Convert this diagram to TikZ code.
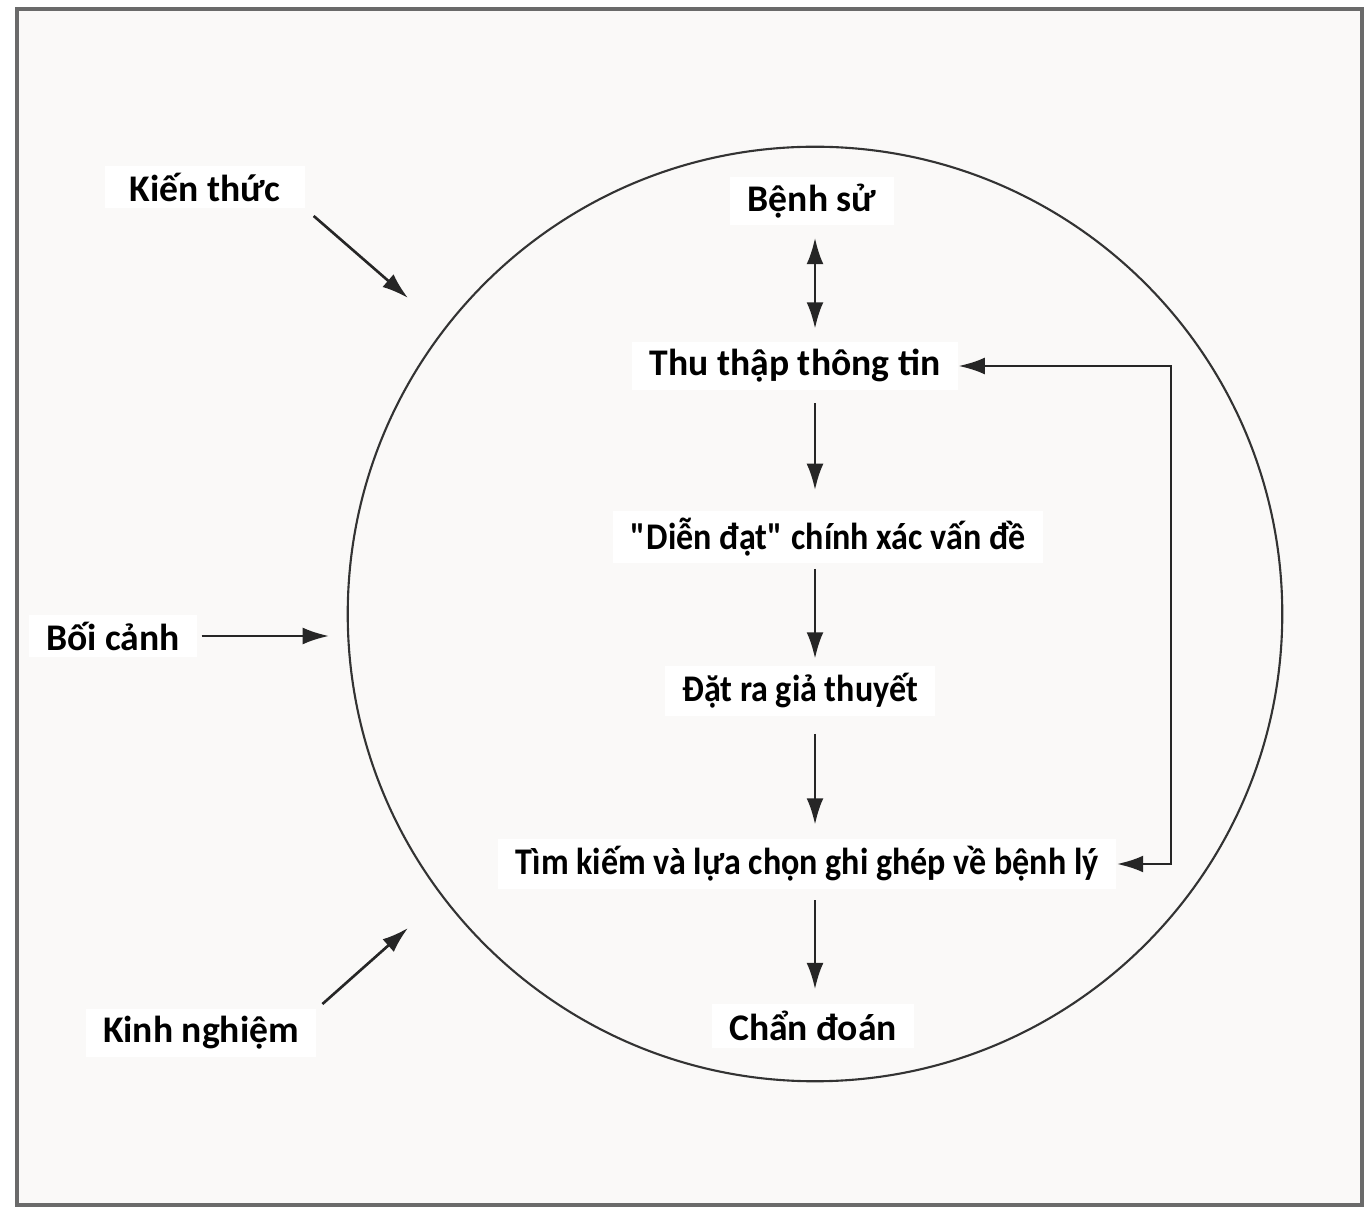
\documentclass[tikz,border=0pt]{standalone}
\usepackage{fontspec}
\setmainfont{Carlito}
\usetikzlibrary{arrows.meta}
\definecolor{nen}{HTML}{FAF9F8}
\definecolor{khung}{HTML}{6A6A6A}
\tikzset{
  nhan/.style={fill=white, font=\bfseries\fontsize{10.7}{12}\selectfont, inner xsep=5pt, inner ysep=2pt},
  hep/.style={nhan, font=\bfseries\fontsize{10.7}{12}\selectfont\addfontfeatures{FakeStretch=0.905}},
  muiten/.style={->, line width=0.75pt, draw=black!85},
}
\begin{document}
\begin{tikzpicture}[x=0.01cm,y=-0.01cm,>={Latex[length=7.5pt,width=4.8pt]}]
  \useasboundingbox (0,0) rectangle (1370,1207);
  % khung ngoai
  \draw[line width=0.9pt, draw=khung, fill=nen] (17,9) rectangle (1362,1205);
  \node[circle, draw=black!80, line width=0.6pt, minimum size=9.34cm, inner sep=0pt] (vong) at (815,614) {};
  % cac buoc trong vong
  \node[nhan] (benh) at (812,201) {Bệnh sử};
  \node[nhan] (thu) at (795,366) {Thu thập thông tin};
  \node[hep] (dien) at (828,537) {\textquotedbl Diễn đạt\textquotedbl{} chính xác vấn đề};
  \node[hep] (dat) at (800,691) {Đặt ra giả thuyết};
  \node[hep] (tim) at (807,864) {Tìm kiếm và lựa chọn ghi ghép về bệnh lý};
  \node[nhan] (chan) at (813,1026) {Chẩn đoán};
  % yeu to ben ngoai
  \node[nhan, inner xsep=7pt] (kien) at (205,187) {Kiến thức};
  \node[nhan] (boi) at (113,636) {Bối cảnh};
  \node[nhan] (kinh) at (201,1033) {Kinh nghiệm};
  \coordinate (truc) at (815,0);
  \coordinate (ve) at (1171,0);
  \coordinate (kienden) at (408,298);
  \coordinate (kinhden) at (408,928);
  % mui ten doc
  \draw[muiten, <->, shorten <=3.4pt, shorten >=3.7pt] (benh.south -| truc) -- (thu.north -| truc);
  \draw[muiten, shorten <=3.7pt, shorten >=5.7pt] (thu.south -| truc) -- (dien.north -| truc);
  \draw[muiten, shorten <=1.4pt, shorten >=2pt] (dien.south -| truc) -- (dat.north -| truc);
  \draw[muiten, shorten <=5pt, shorten >=4pt] (dat.south -| truc) -- (tim.north -| truc);
  \draw[muiten, shorten <=3.1pt, shorten >=4pt] (tim.south -| truc) -- (chan.north -| truc);
  % vong lap phan hoi
  \draw[muiten, <->] (thu.east) -- (thu.east -| ve) -- (tim.east -| ve) -- (tim.east);
  % mui ten vao vong
  \draw[muiten, shorten <=3pt] (kien.south east) -- (kienden);
  \draw[muiten, shorten <=2pt] (kinh.north east) -- (kinhden);
  \draw[muiten, shorten <=1pt, shorten >=5pt] (boi.east) -- (boi.east -| vong.west);
\end{tikzpicture}
\end{document}
